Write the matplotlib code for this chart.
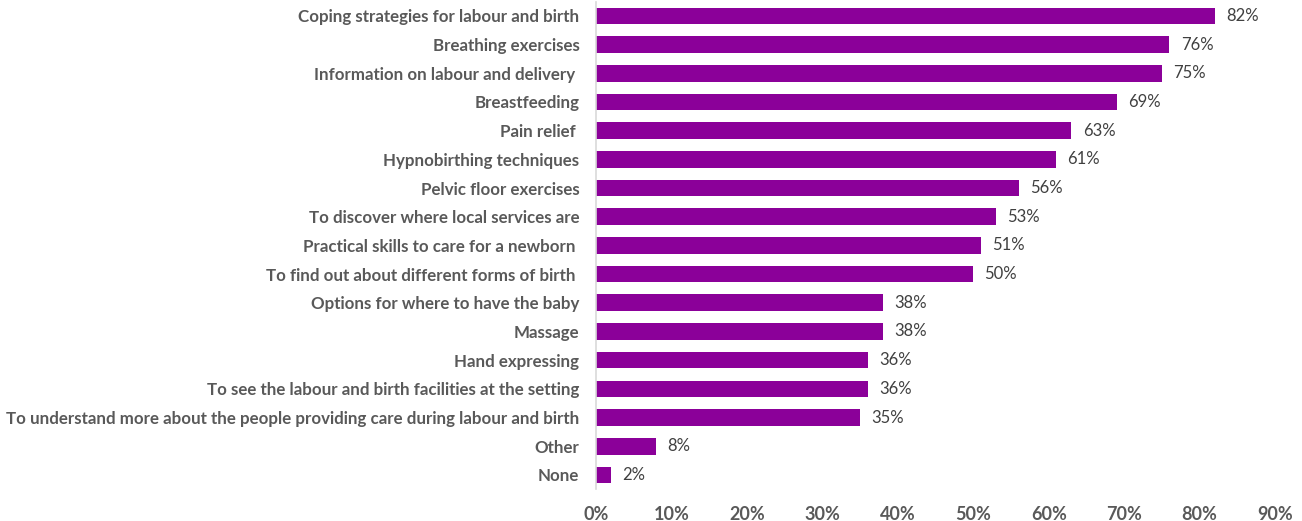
import matplotlib
matplotlib.use('Agg')
import matplotlib.pyplot as plt
from matplotlib.ticker import PercentFormatter

plt.rcParams['font.family'] = ['Lato', 'DejaVu Sans']

# survey answers, top to bottom as in the chart
categories = [
    'Coping strategies for labour and birth',
    'Breathing exercises',
    'Information on labour and delivery ',
    'Breastfeeding',
    'Pain relief ',
    'Hypnobirthing techniques',
    'Pelvic floor exercises',
    'To discover where local services are',
    'Practical skills to care for a newborn ',
    'To find out about different forms of birth ',
    'Options for where to have the baby',
    'Massage',
    'Hand expressing',
    'To see the labour and birth facilities at the setting',
    'To understand more about the people providing care during labour and birth',
    'Other',
    'None',
]
values = [82, 76, 75, 69, 63, 61, 56, 53, 51, 50, 38, 38, 36, 36, 35, 8, 2]
x_ticks = [0, 10, 20, 30, 40, 50, 60, 70, 80, 90]

bar_color = '#8B0099'
text_grey = '#595959'

fig = plt.figure(figsize=(13.02, 5.21), dpi=100)
ax = fig.add_axes([0.4578, 0.061, 0.5215, 0.936])

y = list(range(len(categories)))
bars = ax.barh(y, values, height=0.58, color=bar_color)
ax.set_ylim(len(categories) - 0.5, -0.5)
ax.set_xlim(0, 90)

# value labels to the right of each bar
for yi, v in zip(y, values):
    ax.text(v + 1.5, yi, f'{v}%', va='center', ha='left', fontsize=12, color='#404040')

ax.set_yticks(y)
ax.set_yticklabels(categories, fontsize=12.2, fontweight='bold', color=text_grey)
ax.set_xticks(x_ticks)
ax.xaxis.set_major_formatter(PercentFormatter(decimals=0))
for lab in ax.get_xticklabels():
    lab.set_fontweight('bold')
    lab.set_fontsize(13)
    lab.set_color(text_grey)

ax.tick_params(axis='both', length=0)
ax.tick_params(axis='y', pad=12)
ax.tick_params(axis='x', pad=12)
for side in ['top', 'right', 'bottom']:
    ax.spines[side].set_visible(False)
ax.spines['left'].set_color('#d9d9d9')
ax.spines['left'].set_linewidth(1.2)

fig.savefig('out.png', dpi=100)
